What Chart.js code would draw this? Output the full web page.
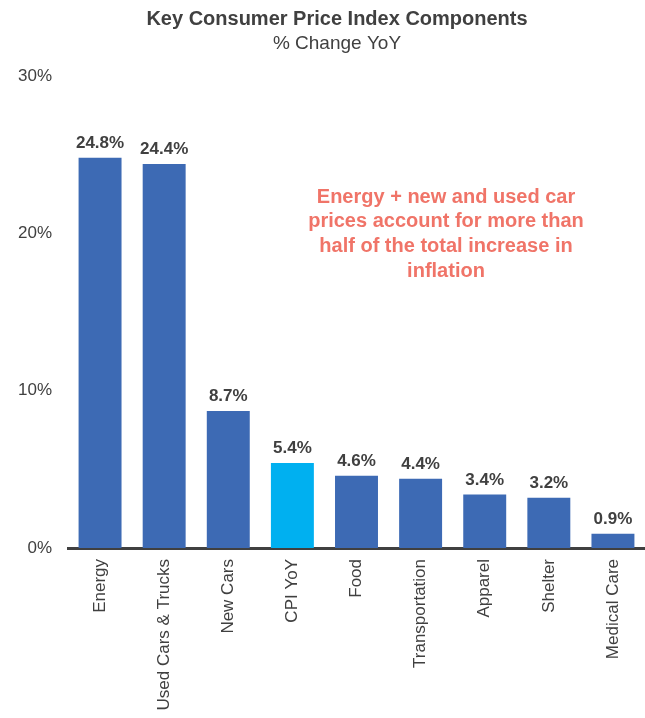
<!DOCTYPE html>
<html>
<head>
<meta charset="utf-8">
<script src="https://cdn.jsdelivr.net/npm/chart.js@4.4.1/dist/chart.umd.min.js"></script>
<style>
  html, body { margin: 0; padding: 0; background: #fff; }
  #wrap { width: 645px; height: 718px; }
</style>
</head>
<body>
<div id="wrap"><canvas id="myChart" width="645" height="718"></canvas></div>
<script>
const categories = ['Energy', 'Used Cars & Trucks', 'New Cars', 'CPI YoY', 'Food', 'Transportation', 'Apparel', 'Shelter', 'Medical Care'];
const values = [24.8, 24.4, 8.7, 5.4, 4.6, 4.4, 3.4, 3.2, 0.9];
const highlighted = 'CPI YoY';
const yTicks = [0, 10, 20, 30];
const titleText = 'Key Consumer Price Index Components';
const subtitleText = '% Change YoY';
const noteLines = ['Energy + new and used car', 'prices account for more than', 'half of the total increase in', 'inflation'];

const FONT = "'Liberation Sans', Arial, sans-serif";
const textGray = '#404040';

// titles, value labels and the red note are drawn on top of the chart
const extraText = {
  id: 'extraText',
  afterDatasetsDraw(chart) {
    const c = chart.ctx;
    const meta = chart.getDatasetMeta(0);
    const y = chart.scales.y;
    c.save();
    c.textAlign = 'center';

    c.fillStyle = textGray;
    c.textBaseline = 'middle';
    c.font = 'bold 20px ' + FONT;
    c.fillText(titleText, 337, 19);
    c.font = '19px ' + FONT;
    c.fillText(subtitleText, 337, 44);

    c.font = 'bold 17px ' + FONT;
    c.textBaseline = 'alphabetic';
    meta.data.forEach((bar, i) => {
      c.fillText(values[i].toFixed(1) + '%', bar.x, bar.y - 10);
    });

    c.fillStyle = '#F07468';
    c.font = 'bold 20px ' + FONT;
    c.textBaseline = 'middle';
    noteLines.forEach((line, i) => {
      c.fillText(line, 446, y.getPixelForValue(22.3) + i * 24.8);
    });
    c.restore();
  }
};

const ctx = document.getElementById('myChart');
const myChart = new Chart(ctx, {
  type: 'bar',
  data: {
    labels: categories,
    datasets: [{
      data: values,
      backgroundColor: categories.map(c => c === highlighted ? '#00B0F0' : '#3D6AB4'),
      borderWidth: 0,
      categoryPercentage: 1,
      barPercentage: 0.67
    }]
  },
  options: {
    responsive: false,
    animation: false,
    layout: { padding: { top: 76, right: 0, bottom: 0, left: 0 } },
    plugins: {
      legend: { display: false },
      tooltip: { enabled: false }
    },
    scales: {
      x: {
        grid: { display: false, drawTicks: false },
        border: { display: true, color: '#404040', width: 3 },
        ticks: {
          color: textGray,
          font: { family: FONT, size: 17 },
          minRotation: 90,
          maxRotation: 90,
          autoSkip: false,
          padding: 11
        },
        afterFit(scale) { scale.height = 170; }
      },
      y: {
        min: 0,
        max: 30,
        grid: { display: false, drawTicks: false },
        border: { display: false },
        afterBuildTicks(scale) { scale.ticks = yTicks.map(v => ({ value: v })); },
        ticks: {
          color: textGray,
          font: { family: FONT, size: 17 },
          padding: 16,
          callback: v => v + '%'
        },
        afterFit(scale) { scale.width = 68; }
      }
    }
  },
  plugins: [extraText]
});
</script>
</body>
</html>
